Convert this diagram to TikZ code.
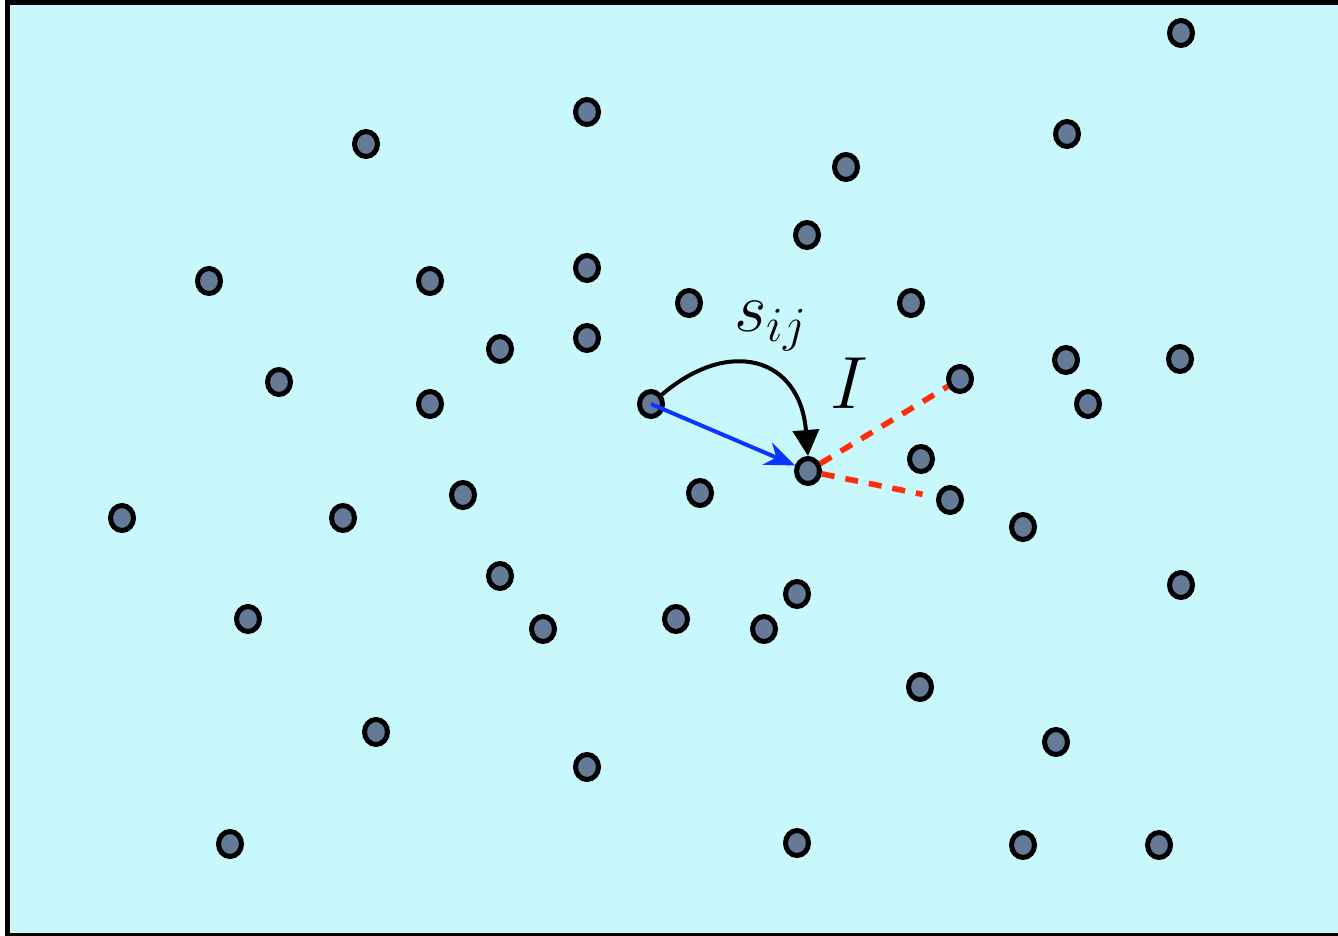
\documentclass[tikz,border=0pt]{standalone}
\usepackage{fix-cm}
\usetikzlibrary{shapes.geometric,arrows.meta}
\definecolor{bgCyan}{RGB}{200,247,252}
\definecolor{dotGray}{RGB}{100,122,150}
\definecolor{arrowBlue}{RGB}{10,55,255}
\definecolor{dashRed}{RGB}{255,45,10}

\begin{document}
\begin{tikzpicture}[
        x=0.5pt,
        y=-0.5pt,
        frameBox/.style={
            draw,
            fill=bgCyan,
            line width=2.6pt
        },
        dotNode/.style={
            ellipse,
            draw,
            fill=dotGray,
            line width=2.5pt,
            minimum width=11.5pt,
            minimum height=12.5pt,
            inner sep=0pt
        },
        moveArrow/.style={
            draw=arrowBlue,
            line width=2pt,
            -{Stealth[length=15pt,width=12pt]}
        },
        swapArrow/.style={
            line width=2pt,
            -{Triangle[length=13pt,width=13pt]}
        },
        dashLine/.style={
            draw=dashRed,
            line width=2.8pt,
            dash pattern=on 6.5pt off 5.5pt
        },
        mathLabel/.style={
            inner sep=0pt,
            anchor=base west
        }
    ]
        \useasboundingbox (0,0) rectangle (1338,936);
        \draw[frameBox] (7.8,2.5) rectangle (1350,935.5);

        \node[dotNode] (p1)  at (1181,33)  {};
        \node[dotNode] (p2)  at (587,112)  {};
        \node[dotNode] (p3)  at (366,144)  {};
        \node[dotNode] (p4)  at (1067,134) {};
        \node[dotNode] (p5)  at (846,167)  {};
        \node[dotNode] (p6)  at (807,235)  {};
        \node[dotNode] (p7)  at (209,281)  {};
        \node[dotNode] (p8)  at (430,281)  {};
        \node[dotNode] (p9)  at (587,268)  {};
        \node[dotNode] (p10) at (689,303)  {};
        \node[dotNode] (p11) at (911,303)  {};
        \node[dotNode] (p12) at (587,338)  {};
        \node[dotNode] (p13) at (500,349)  {};
        \node[dotNode] (p14) at (279,382)  {};
        \node[dotNode] (p15) at (430,404)  {};
        \node[dotNode] (p16) at (960,379)  {};
        \node[dotNode] (p17) at (1066,360) {};
        \node[dotNode] (p18) at (1180,359) {};
        \node[dotNode] (p19) at (1088,404) {};
        \node[dotNode] (p20) at (921,459)  {};
        \node[dotNode] (p21) at (950,500)  {};
        \node[dotNode] (p22) at (700,493)  {};
        \node[dotNode] (p23) at (463,495)  {};
        \node[dotNode] (p24) at (122,518)  {};
        \node[dotNode] (p25) at (343,518)  {};
        \node[dotNode] (p26) at (1023,527) {};
        \node[dotNode] (p27) at (500,576)  {};
        \node[dotNode] (p28) at (797,594)  {};
        \node[dotNode] (p29) at (1181,585) {};
        \node[dotNode] (p30) at (248,619)  {};
        \node[dotNode] (p31) at (543,629)  {};
        \node[dotNode] (p32) at (676,619)  {};
        \node[dotNode] (p33) at (764,629)  {};
        \node[dotNode] (p34) at (920,687)  {};
        \node[dotNode] (p35) at (376,732)  {};
        \node[dotNode] (p36) at (1056,742) {};
        \node[dotNode] (p37) at (587,767)  {};
        \node[dotNode] (p38) at (230,844)  {};
        \node[dotNode] (p39) at (797,843)  {};
        \node[dotNode] (p40) at (1023,845) {};
        \node[dotNode] (p41) at (1159,845) {};

        % the moved particle and its new place
        \node[dotNode] (pi) at (651,404) {};
        \node[dotNode] (pj) at (808,471) {};

        \draw[moveArrow] (pi.center) -- (pj);
        \draw[swapArrow] (pi) .. controls (729,337) and (800,357) .. (pj.north);

        \draw[dashLine] (pj) -- (p16);
        \draw[dashLine, shorten >=7pt] (pj) -- (p21);

        \node[mathLabel, font=\fontsize{35pt}{42pt}\selectfont] (sij) at (734,331) {$s_{ij}$};
        \node[mathLabel, font=\fontsize{37pt}{44pt}\selectfont] (setI) at (830,408) {$I$};

    \end{tikzpicture}
\end{document}
